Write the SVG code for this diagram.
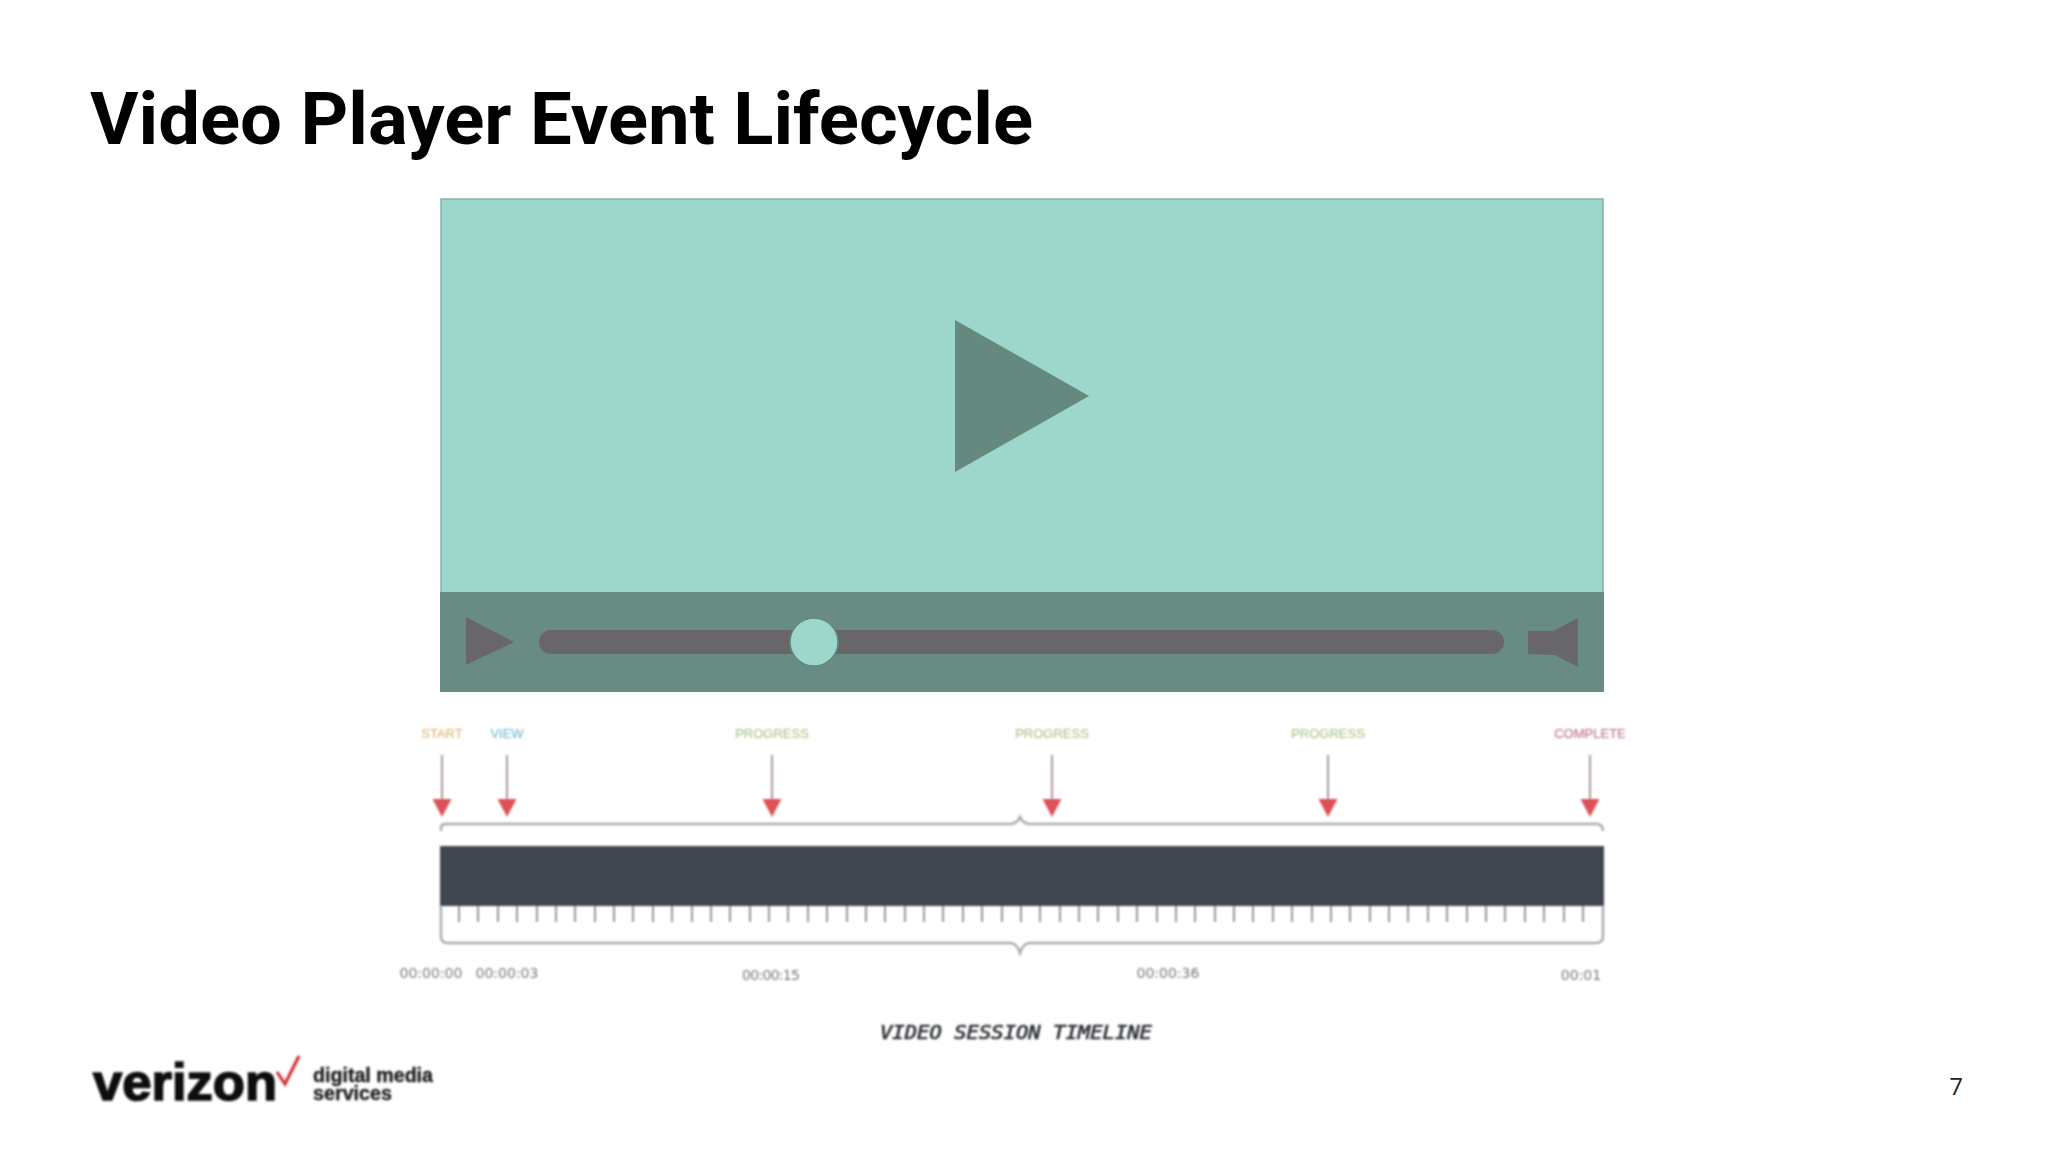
<svg xmlns="http://www.w3.org/2000/svg" width="2048" height="1152" viewBox="0 0 2048 1152">
<style>
.lbl{font-family:"Liberation Sans",Arial,sans-serif;font-size:13px;text-anchor:middle}
.time{font-family:"DejaVu Sans",sans-serif;font-size:14px;fill:#77797c;text-anchor:middle}
.stem{stroke:#ab9a9b;stroke-width:2;fill:none}
.head{fill:#dc5156}
.brace{stroke:#a9abac;stroke-width:2.5;fill:none}
.tick{stroke:#70757a;stroke-width:1.5}
.soft{filter:url(#soft)}
</style>
<defs>
<filter id="soft" x="-10%" y="-10%" width="120%" height="120%"><feGaussianBlur stdDeviation="0.8"/></filter>
<path id="arrow" d="M0 0V46"/>
<polygon id="ahead" points="-9.5,44 9.5,44 0,62"/>
</defs>
<rect width="2048" height="1152" fill="#fff"/>
<g id="title"><text x="90" y="144" font-family="Roboto,sans-serif" font-weight="700" font-size="72" fill="#000" textLength="943" lengthAdjust="spacingAndGlyphs">Video Player Event Lifecycle</text></g>
<g id="player">
<rect x="441" y="199" width="1162" height="394" fill="#9dd6cb" stroke="#86b0a8" stroke-width="1.5"/>
<polygon points="955,320 1089,396 955,472" fill="#64897f"/>
</g>
<g id="controls">
<rect x="440" y="592" width="1164" height="100" fill="#688c84"/>
<polygon points="466,617 514,642 466,665" fill="#696669"/>
<rect x="539" y="630" width="965" height="24" rx="12" fill="#696669"/>
<circle cx="814" cy="642" r="24" fill="#9dd6cb" stroke="#5f8a80" stroke-width="1.5"/>
<polygon points="1528,631 1553,631 1578,618 1578,667 1555,655 1528,654" fill="#696669"/>
</g>
<g id="connectors" class="soft">
<g class="stem">
<use href="#arrow" x="442" y="755"/><use href="#arrow" x="507" y="755"/><use href="#arrow" x="772" y="755"/><use href="#arrow" x="1052" y="755"/><use href="#arrow" x="1328" y="755"/><use href="#arrow" x="1590" y="755"/>
</g>
<g class="head">
<use href="#ahead" x="442" y="755"/><use href="#ahead" x="507" y="755"/><use href="#ahead" x="772" y="755"/><use href="#ahead" x="1052" y="755"/><use href="#ahead" x="1328" y="755"/><use href="#ahead" x="1590" y="755"/>
</g>
</g>
<g id="labels" class="soft">
<text class="lbl" x="442" y="738" fill="#d8ae6b">START</text>
<text class="lbl" x="507" y="738" fill="#66b3cb">VIEW</text>
<text class="lbl" x="772" y="738" fill="#a3bb7a">PROGRESS</text>
<text class="lbl" x="1052" y="738" fill="#a3bb7a">PROGRESS</text>
<text class="lbl" x="1328" y="738" fill="#a3bb7a">PROGRESS</text>
<text class="lbl" x="1590" y="738" fill="#b5627f">COMPLETE</text>
</g>
<g id="timeline" class="soft">
<path class="brace" d="M441 831V828Q441 824 446 824H1010Q1017 824 1020 817Q1023 824 1030 824H1596Q1603 824 1603 831"/>
<rect x="440" y="846" width="1164" height="60" fill="#404651"/>
<path class="brace" d="M441 906V936Q441 943 448 943H1010Q1017 943 1020 953Q1023 943 1030 943H1596Q1603 943 1603 936V906"/>
<path class="tick" d="M459 906v16M478 906v16M498 906v16M517 906v16M537 906v16M556 906v16M575 906v16M595 906v16M614 906v16M633 906v16M653 906v16M672 906v16M692 906v16M711 906v16M730 906v16M750 906v16M769 906v16M788 906v16M808 906v16M827 906v16M847 906v16M866 906v16M885 906v16M905 906v16M924 906v16M943 906v16M963 906v16M982 906v16M1002 906v16M1021 906v16M1040 906v16M1060 906v16M1079 906v16M1098 906v16M1118 906v16M1137 906v16M1157 906v16M1176 906v16M1195 906v16M1215 906v16M1234 906v16M1253 906v16M1273 906v16M1292 906v16M1312 906v16M1331 906v16M1350 906v16M1370 906v16M1389 906v16M1408 906v16M1428 906v16M1447 906v16M1467 906v16M1486 906v16M1505 906v16M1525 906v16M1544 906v16M1564 906v16M1583 906v16"/>
</g>
<g id="times" class="soft">
<text class="time" x="431" y="978">00:00:00</text>
<text class="time" x="507" y="978">00:00:03</text>
<text class="time" x="771" y="980" textLength="58">00:00:15</text>
<text class="time" x="1168" y="978">00:00:36</text>
<text class="time" x="1581" y="980">00:01</text>
</g>
<g id="caption" class="soft"><text x="880" y="1039" font-family="'DejaVu Sans Mono',monospace" font-style="oblique" font-size="19" fill="#2f3236" stroke="#2f3236" stroke-width="0.7" textLength="272" lengthAdjust="spacingAndGlyphs">VIDEO SESSION TIMELINE</text></g>
<g id="logo" class="soft">
<text x="93" y="1100" font-family="'Liberation Sans',sans-serif" font-weight="700" font-size="52" fill="#0b0b0b" stroke="#0b0b0b" stroke-width="1.6" textLength="184" lengthAdjust="spacingAndGlyphs">verizon</text>
<path d="M277 1072L285 1084L299 1056" fill="none" stroke="#d52b30" stroke-width="3"/>
<text x="313" y="1082" font-family="'Liberation Sans',sans-serif" font-weight="700" font-size="20" fill="#222" stroke="#222" stroke-width="0.4" textLength="120" lengthAdjust="spacingAndGlyphs">digital media</text>
<text x="313" y="1100" font-family="'Liberation Sans',sans-serif" font-weight="700" font-size="20" fill="#222" stroke="#222" stroke-width="0.4" textLength="79" lengthAdjust="spacingAndGlyphs">services</text>
</g>
<g id="page"><text x="1956" y="1095" font-family="'Open Sans',sans-serif" font-size="24" fill="#222" text-anchor="middle">7</text></g>
</svg>
